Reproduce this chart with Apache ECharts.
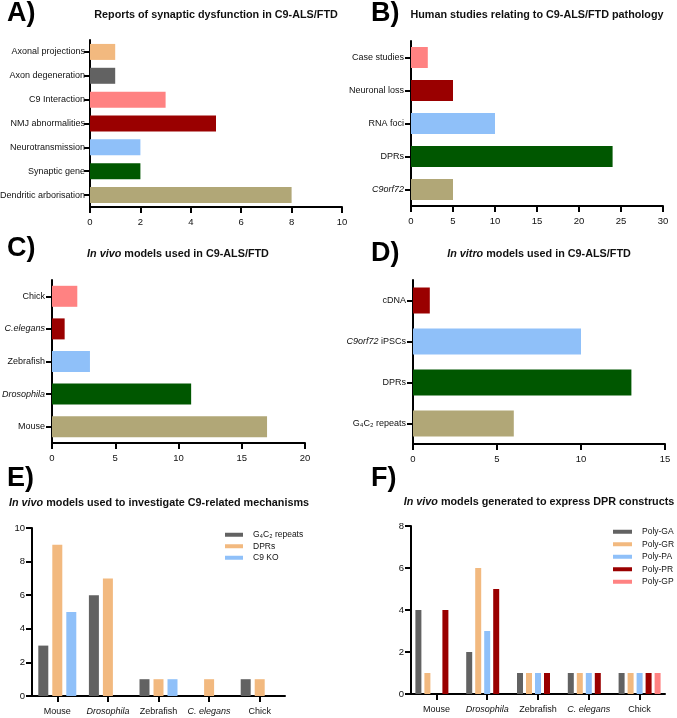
<!DOCTYPE html>
<html>
<head>
<meta charset="utf-8">
<script src="https://cdn.jsdelivr.net/npm/echarts@6/dist/echarts.min.js"></script>
<style>html,body{margin:0;padding:0;background:#fff}#c{width:677px;height:718px}</style>
</head>
<body>
<div id="c"></div>
<script>
// ---- data ----
const catA = ['Axonal projections','Axon degeneration','C9 Interaction','NMJ abnormalities','Neurotransmission','Synaptic gene','Dendritic arborisation'];
const valA = [1,1,3,5,2,2,8];
const catB = ['Case studies','Neuronal loss','RNA foci','DPRs','C9orf72'];
const valB = [2,5,10,24,5];
const catC = ['Chick','C.elegans','Zebrafish','Drosophila','Mouse'];
const valC = [2,1,3,11,17];
const catD = ['cDNA','C9orf72 iPSCs','DPRs','G₄C₂ repeats'];
const valD = [1,10,13,6];
const catE = ['Mouse','Drosophila','Zebrafish','C. elegans','Chick'];
const namesE = ['G₄C₂ repeats','DPRs','C9 KO'];
const g4c2E = [3,6,1,0,1];
const dprE  = [9,7,1,1,1];
const koE   = [5,0,1,0,0];
const catF = ['Mouse','Drosophila','Zebrafish','C. elegans','Chick'];
const namesF = ['Poly-GA','Poly-GR','Poly-PA','Poly-PR','Poly-GP'];
const polyGA = [4,2,1,1,1];
const polyGR = [1,6,1,1,1];
const polyPA = [0,3,1,1,1];
const polyPR = [4,5,1,1,1];
const polyGP = [0,0,0,0,1];
const italicWords = ['C9orf72','C.elegans','C. elegans','Drosophila'];

// ---- styles ----
const COL = {peach:'#F2B97F', grey:'#626262', pink:'#FF8282', red:'#9A0000', blue:'#8FC0F9', green:'#005700', khaki:'#B1A777'};
const colA = [COL.peach,COL.grey,COL.pink,COL.red,COL.blue,COL.green,COL.khaki];
const colB = [COL.pink,COL.red,COL.blue,COL.green,COL.khaki];
const colC = [COL.pink,COL.red,COL.blue,COL.green,COL.khaki];
const colD = [COL.red,COL.blue,COL.green,COL.khaki];
const colE = [COL.grey,COL.peach,COL.blue];
const colF = [COL.grey,COL.peach,COL.blue,COL.red,COL.pink];

const SANS = "'Liberation Sans',Arial,Helvetica,sans-serif";
const LFS = 9;
const NFS = 9.5;

function fmt(v){
  for (const w of italicWords){
    if (v === w) return '{i|' + w + '}';
    if (v.startsWith(w + ' ')) return '{i|' + w + '}' + v.slice(w.length);
  }
  return v;
}
const richI = {i:{fontStyle:'italic', fontFamily:SANS, fontSize:LFS, color:'#111'}};
const axLine = {show:true, onZero:false, lineStyle:{color:'#000', width:2}};
const axTick = {show:true, length:6, lineStyle:{color:'#000', width:2}};
const catTick = {show:true, length:6, alignWithLabel:true, lineStyle:{color:'#000', width:2}};
const lab = (m)=>({fontFamily:SANS, fontSize:LFS, color:'#111', margin:m, interval:0, formatter:fmt, rich:richI});
const numLab = (m)=>({fontFamily:SANS, fontSize:NFS, color:'#111', margin:m});

const grids = [
  {left:90, top:40, width:252, height:167},
  {left:411, top:41, width:252, height:165},
  {left:52, top:280, width:253, height:163},
  {left:413, top:280, width:252, height:164},
  {left:32, top:528, width:253, height:168},
  {left:411, top:526, width:254, height:168}
].map(g=>Object.assign({outerBoundsMode:'none', containLabel:false}, g));

function valX(gi, max, interval){
  return {type:'value', gridIndex:gi, min:0, max:max, interval:interval, axisLine:axLine, axisTick:axTick,
    splitLine:{show:false}, axisLabel:numLab(10)};
}
function catY(gi, cats, m){
  return {type:'category', gridIndex:gi, data:cats, inverse:true, axisLine:axLine, axisTick:catTick, axisLabel:lab(m)};
}
function hbar(gi, vals, cols, bw){
  return {type:'bar', xAxisIndex:gi, yAxisIndex:gi, barWidth:bw,
    data: vals.map((v,i)=>({value:v, itemStyle:{color:cols[i]}}))};
}

const TFS = 10.8;
const titleStyle = {fontFamily:SANS, fontWeight:'bold', fontSize:TFS, color:'#111',
  rich:{i:{fontFamily:SANS, fontWeight:'bold', fontStyle:'italic', fontSize:TFS, color:'#111'}}};
function T(text, x, y){ return {text:text, left:x, top:y, textAlign:'center', padding:0, textStyle:titleStyle}; }
function L(text, x, y){ return {text:text, left:x, top:y, padding:0, textStyle:{fontFamily:SANS, fontWeight:'bold', fontSize:27, color:'#000'}}; }

const legText = {fontFamily:SANS, fontSize:8.5, color:'#111', lineHeight:11.5, padding:[0,0,0,5], overflow:'none'};

const option = {
  animation:false,
  backgroundColor:'#fff',
  title:[
    L('A)',7,0), L('B)',371,0), L('C)',7,235), L('D)',371,240), L('E)',7,465), L('F)',371,465),
    T('Reports of synaptic dysfunction in C9-ALS/FTD',216,10),
    T('Human studies relating to C9-ALS/FTD pathology',537,10),
    T('{i|In vivo} models used in C9-ALS/FTD',178,249),
    T('{i|In vitro} models used in C9-ALS/FTD',539,249),
    T('{i|In vivo} models used to investigate C9-related mechanisms',159,498),
    T('{i|In vivo} models generated to express DPR constructs',539,497)
  ],
  legend:[
    {data:namesE, left:225, top:529, padding:0, orient:'vertical', icon:'rect', itemWidth:18, itemHeight:4, itemGap:0,
      textStyle:legText},
    {data:namesF, left:613, top:526, padding:0, orient:'vertical', icon:'rect', itemWidth:19, itemHeight:4, itemGap:1,
      textStyle:legText}
  ],
  grid:grids,
  xAxis:[
    valX(0,10,2), valX(1,30,5), valX(2,20,5), valX(3,15,5),
    {type:'category', gridIndex:4, data:catE, axisLine:axLine, axisTick:catTick, axisLabel:lab(11)},
    {type:'category', gridIndex:5, data:catF, axisLine:axLine, axisTick:catTick, axisLabel:lab(11)}
  ],
  yAxis:[
    catY(0,catA,5), catY(1,catB,7), catY(2,catC,7), catY(3,catD,7),
    {type:'value', gridIndex:4, min:0, max:10, interval:2, axisLine:axLine, axisTick:axTick, splitLine:{show:false}, axisLabel:numLab(7)},
    {type:'value', gridIndex:5, min:0, max:8, interval:2, axisLine:axLine, axisTick:axTick, splitLine:{show:false}, axisLabel:numLab(7)}
  ],
  series:[
    hbar(0,valA,colA,16), hbar(1,valB,colB,21), hbar(2,valC,colC,21), hbar(3,valD,colD,26),
    ...[g4c2E,dprE,koE].map((d,i)=>({type:'bar', name:namesE[i], xAxisIndex:4, yAxisIndex:4, data:d,
      barWidth:10, barGap:'40%', itemStyle:{color:colE[i]}})),
    ...[polyGA,polyGR,polyPA,polyPR,polyGP].map((d,i)=>({type:'bar', name:namesF[i], xAxisIndex:5, yAxisIndex:5, data:d,
      barWidth:6, barGap:'50%', itemStyle:{color:colF[i]}}))
  ]
};
const chart = echarts.init(document.getElementById('c'), null, {renderer:'canvas'});
chart.setOption(option);
</script>
</body>
</html>
